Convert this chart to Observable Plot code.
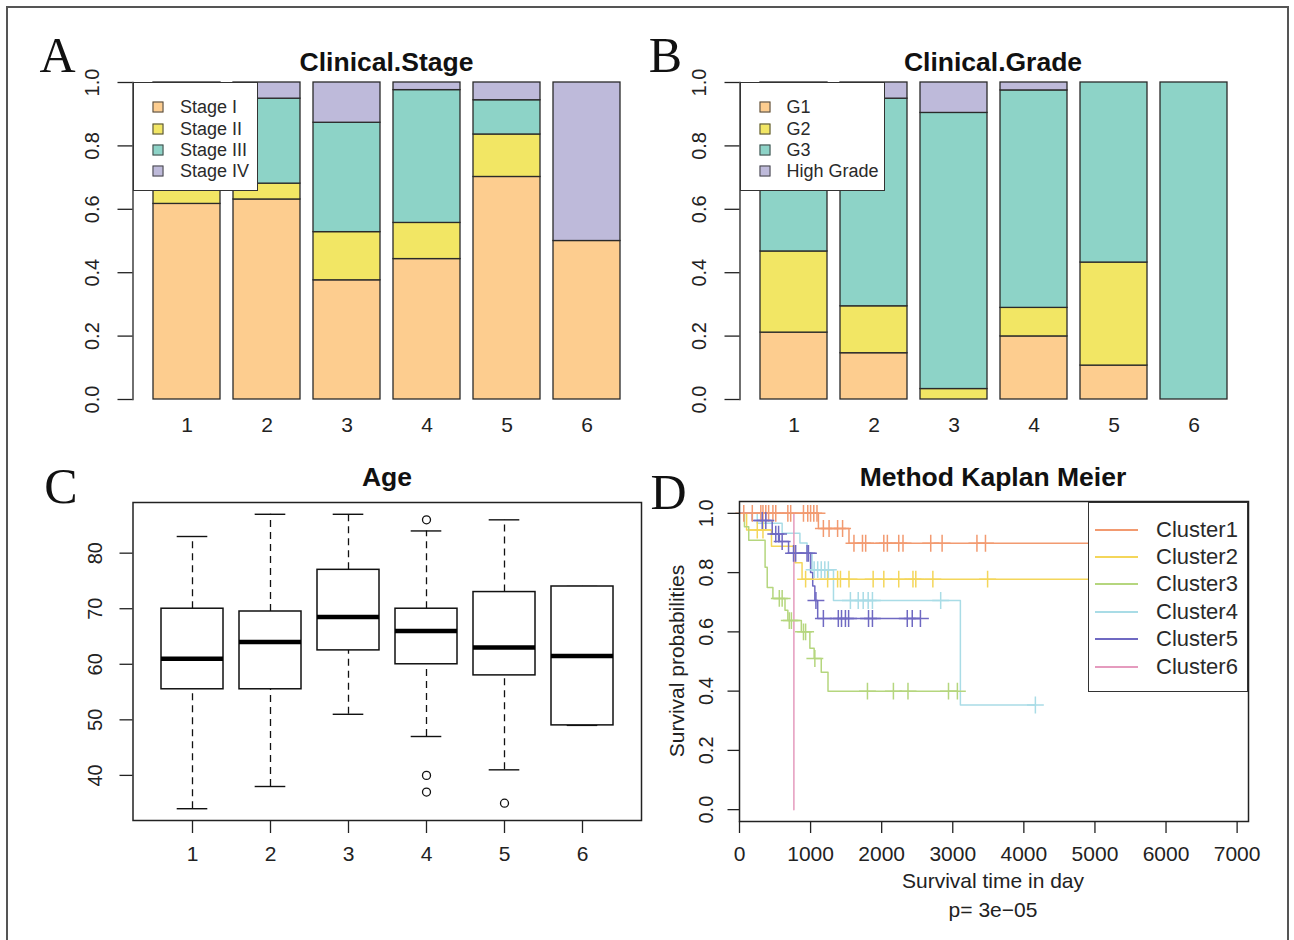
<!DOCTYPE html>
<html>
<head>
<meta charset="utf-8">
<script src="https://cdn.jsdelivr.net/npm/d3@7"></script>
<script src="https://cdn.jsdelivr.net/npm/@observablehq/plot@0.6"></script>
<style>
html, body { margin: 0; padding: 0; background: #fff; overflow: hidden; }
#fig { position: relative; width: 1294px; height: 940px; overflow: hidden; background: #fff;
       font-family: "Liberation Sans", Arial, sans-serif; color: #1e1e1e; }
#border { position: absolute; left: 6px; top: 6px; width: 1283px; height: 1000px;
          border: 2px solid #555; box-sizing: border-box; }
.panel { position: absolute; }
.panel svg { max-width: none !important; overflow: visible; }
.lbl { position: absolute; transform: translate(-50%, -50%); white-space: nowrap; line-height: 1; }
.letter { font-family: "Liberation Serif", "Times New Roman", serif; font-size: 50px; color: #111; }
.title { font-weight: bold; font-size: 26.5px; color: #111; }
.axlab { font-size: 21px; color: #222; }
.legend { position: absolute; background: #fff; border: 1.4px solid #333; box-sizing: border-box; }
.legend .sw { position: absolute; width: 11px; height: 11px; border: 1.3px solid #444; box-sizing: border-box; transform: translate(-50%, -50%); }
.legend .ln { position: absolute; height: 2px; transform: translateY(-50%); }
.legend .tx { position: absolute; transform: translateY(-50%); white-space: nowrap; line-height: 1; color: #2a2a2a; }
</style>
</head>
<body>
<div id="fig"><div id="border"></div></div>
<script>
// ---------------- DATA ----------------
const clusters = ["1", "2", "3", "4", "5", "6"];

// Panel A: Clinical.Stage proportions per cluster
const stageNames = ["Stage I", "Stage II", "Stage III", "Stage IV"];
const stageColors = ["#FDCD8F", "#F2E664", "#8DD3C7", "#BEBADA"];
const stageI   = [0.617, 0.631, 0.376, 0.443, 0.702, 0.500];
const stageII  = [0.050, 0.050, 0.152, 0.114, 0.134, 0.000];
const stageIII = [0.280, 0.268, 0.345, 0.419, 0.108, 0.000];
const stageIV  = [0.053, 0.051, 0.127, 0.024, 0.056, 0.500];

// Panel B: Clinical.Grade proportions per cluster
const gradeNames = ["G1", "G2", "G3", "High Grade"];
const gradeColors = ["#FDCD8F", "#F2E664", "#8DD3C7", "#BEBADA"];
const gradeG1 = [0.211, 0.146, 0.000, 0.199, 0.107, 0.000];
const gradeG2 = [0.256, 0.148, 0.033, 0.090, 0.325, 0.000];
const gradeG3 = [0.533, 0.655, 0.871, 0.686, 0.568, 1.000];
const gradeHigh = [0.000, 0.051, 0.096, 0.025, 0.000, 0.000];

const propTicks = [0, 0.2, 0.4, 0.6, 0.8, 1.0];

// Panel C: Age boxplot statistics
const ageLowerWhisker = [34, 38, 51, 47, 41, 49];
const ageQ1          = [55.5, 55.5, 62.5, 60, 58, 49];
const ageMedian      = [61, 64, 68.5, 66, 63, 61.5];
const ageQ3          = [70, 69.5, 77, 70, 73, 74];
const ageUpperWhisker= [83, 87, 87, 84, 86, 74];
const ageOutlierCluster = ["4", "4", "4", "5"];
const ageOutlierValue   = [86, 40, 37, 35];
const ageTicks = [40, 50, 60, 70, 80];

// Panel D: Kaplan-Meier curves
const kmNames = ["Cluster1", "Cluster2", "Cluster3", "Cluster4", "Cluster5", "Cluster6"];
const kmColors = ["#F29A70", "#F4D65A", "#B5D67E", "#A9DCE6", "#6F69C2", "#E59BBE"];
const c1StepTimes = [0, 1110, 1540];
const c1StepSurv  = [1.0, 0.949, 0.899];
const c1Censor = [60, 180, 300, 330, 370, 410, 470, 510, 680, 720, 900, 960, 1000, 1045, 1090,
                  1180, 1260, 1380, 1450, 1610, 1730, 1775, 2030, 2080, 2240, 2300, 2690, 2850, 3340, 3460, 6800];
const c2StepTimes = [0, 100, 450, 780, 880];
const c2StepSurv  = [1.0, 0.944, 0.889, 0.833, 0.778];
const c2Censor = [250, 330, 930, 1240, 1380, 1420, 1540, 1880, 2030, 2240, 2440, 2480, 2720, 3490, 6600];
const c3StepTimes = [0, 70, 130, 360, 390, 470, 640, 680, 870, 990, 1050, 1150, 1245];
const c3StepSurv  = [1.0, 0.955, 0.909, 0.818, 0.75, 0.713, 0.673, 0.638, 0.60, 0.545, 0.51, 0.464, 0.40];
const c3Censor = [560, 600, 700, 730, 900, 930, 1060, 1800, 2165, 2370, 2940, 3065];
const c4StepTimes = [0, 250, 600, 850, 950, 1020, 1322, 3107];
const c4StepSurv  = [1.0, 0.967, 0.933, 0.9, 0.867, 0.81, 0.706, 0.353];
const c4Censor = [1050, 1100, 1150, 1200, 1250, 1560, 1670, 1740, 1810, 1870, 2830, 4162];
const c5StepTimes = [0, 180, 460, 560, 690, 1000, 1030, 1060, 1100];
const c5StepSurv  = [1.0, 0.976, 0.93, 0.905, 0.865, 0.80, 0.755, 0.706, 0.645];
const c5Censor = [320, 370, 510, 550, 600, 760, 790, 950, 970, 1075, 1180, 1390, 1435, 1490, 1535,
                  1815, 1870, 2360, 2430, 2545];
const c6StepTimes = [0, 765];
const c6StepSurv  = [1.0, 0.0];
const c6Censor = [];
const kmTimeTicks = [0, 1000, 2000, 3000, 4000, 5000, 6000, 7000];
const kmSurvTicks = [0, 0.2, 0.4, 0.6, 0.8, 1.0];

// ---------------- HELPERS ----------------
const fig = document.getElementById("fig");
const FONT = '"Liberation Sans", Arial, sans-serif';
const INK = "#222";

function addPanel(svg, left, top, w, h) {
  const d = document.createElement("div");
  d.className = "panel";
  Object.assign(d.style, {left: left + "px", top: top + "px", width: w + "px", height: h + "px"});
  d.appendChild(svg);
  fig.appendChild(d);
}
function addLabel(text, cx, cy, cls, rotate) {
  const s = document.createElement("div");
  s.className = "lbl " + cls;
  s.textContent = text;
  s.style.left = cx + "px";
  s.style.top = cy + "px";
  if (rotate) s.style.transform = `translate(-50%, -50%) rotate(${rotate}deg)`;
  fig.appendChild(s);
}
function addBoxLegend(o) {
  const box = document.createElement("div");
  box.className = "legend";
  Object.assign(box.style, {left: o.left + "px", top: o.top + "px", width: o.width + "px", height: o.height + "px"});
  o.names.forEach((n, i) => {
    if (o.kind === "square") {
      const sw = document.createElement("div");
      sw.className = "sw";
      sw.style.left = o.keyX + "px"; sw.style.top = o.rows[i] + "px";
      sw.style.background = o.colors[i];
      box.appendChild(sw);
    } else {
      const ln = document.createElement("div");
      ln.className = "ln";
      ln.style.left = o.keyX + "px"; ln.style.top = o.rows[i] + "px";
      ln.style.width = o.keyW + "px"; ln.style.background = o.colors[i];
      box.appendChild(ln);
    }
    const tx = document.createElement("div");
    tx.className = "tx";
    tx.textContent = n;
    tx.style.left = o.textX + "px"; tx.style.top = o.rows[i] + "px";
    tx.style.fontSize = o.fontSize + "px";
    box.appendChild(tx);
  });
  fig.appendChild(box);
}
const baseStyle = {fontFamily: FONT, fontSize: "21px", color: INK, background: "transparent", overflow: "visible"};

// ---------------- PANEL A & B: stacked proportion bars ----------------
function stackedPanel(names, colors, series, width, marginLeft, marginRight) {
  const rows = clusters.flatMap((c, i) => names.map((n, j) => ({cluster: c, cat: n, value: series[j][i]})))
                       .filter(d => d.value > 0);
  return Plot.plot({
    width, height: 450,
    marginLeft, marginRight, marginTop: 82, marginBottom: 51,
    style: baseStyle,
    x: {type: "band", domain: clusters, paddingInner: 0.2 / 1.2, paddingOuter: 0.28 / 1.2, align: 0.5, label: null},
    y: {domain: [0, 1], label: null},
    color: {domain: names, range: colors},
    marks: [
      Plot.barY(rows, {x: "cluster", y: "value", fill: "cat", stroke: "#2a2a2a", strokeWidth: 1.3}),
      Plot.frame({anchor: "left", stroke: INK, strokeWidth: 1.3}),
      Plot.axisY({ticks: propTicks, tickSize: 15, fill: "none", stroke: INK, strokeWidth: 1.3, label: null}),
      Plot.text(propTicks, {y: d => d, frameAnchor: "left", dx: -40, rotate: -90, text: d => d.toFixed(1),
                            fontSize: 20, textAnchor: "middle", lineAnchor: "middle", fill: INK}),
      Plot.axisX({tickSize: 0, tickPadding: 18, fill: INK, label: null})
    ]
  });
}
addPanel(stackedPanel(stageNames, stageColors, [stageI, stageII, stageIII, stageIV], 650, 132.5, 9), 0, 0, 650, 450);
addPanel(stackedPanel(gradeNames, gradeColors, [gradeG1, gradeG2, gradeG3, gradeHigh], 644, 89.5, 47), 650, 0, 644, 450);

addBoxLegend({kind: "square", left: 132.5, top: 82, width: 125, height: 109, names: stageNames, colors: stageColors,
              rows: [24, 46, 67, 88], keyX: 24.5, textX: 46.5, fontSize: 18});
addBoxLegend({kind: "square", left: 739.5, top: 82, width: 145, height: 109, names: gradeNames, colors: gradeColors,
              rows: [24, 46, 67, 88], keyX: 24.5, textX: 46, fontSize: 18});

// ---------------- PANEL C: Age boxplot ----------------
const boxRows = clusters.map((c, i) => ({cluster: c, lo: ageLowerWhisker[i], q1: ageQ1[i], med: ageMedian[i],
                                         q3: ageQ3[i], hi: ageUpperWhisker[i]}));
const outlierRows = ageOutlierCluster.map((c, i) => ({cluster: c, age: ageOutlierValue[i]}));
const capInset = 508.5 / 6.48 * 0.8 / 4;
const panelC = Plot.plot({
  width: 650, height: 490,
  marginLeft: 132.5, marginRight: 9, marginTop: 52, marginBottom: 120,
  style: baseStyle,
  x: {type: "band", domain: clusters, paddingInner: 0.2, paddingOuter: 0.34, align: 0.5, label: null},
  y: {domain: [31.88, 89.12], label: null},
  marks: [
    Plot.ruleX(boxRows, {x: "cluster", y1: "q3", y2: "hi", stroke: "#111", strokeWidth: 1.3, strokeDasharray: "7,5"}),
    Plot.ruleX(boxRows, {x: "cluster", y1: "lo", y2: "q1", stroke: "#111", strokeWidth: 1.3, strokeDasharray: "7,5"}),
    Plot.tickY(boxRows, {x: "cluster", y: "hi", stroke: "#111", strokeWidth: 1.4, insetLeft: capInset, insetRight: capInset}),
    Plot.tickY(boxRows, {x: "cluster", y: "lo", stroke: "#111", strokeWidth: 1.4, insetLeft: capInset, insetRight: capInset}),
    Plot.barY(boxRows, {x: "cluster", y1: "q1", y2: "q3", fill: "white", stroke: "#111", strokeWidth: 1.5}),
    Plot.tickY(boxRows, {x: "cluster", y: "med", stroke: "#000", strokeWidth: 4.5}),
    Plot.dot(outlierRows, {x: "cluster", y: "age", r: 4, stroke: "#111", strokeWidth: 1.3, fill: "none"}),
    Plot.frame({stroke: "#222", strokeWidth: 1.5}),
    Plot.axisY({ticks: ageTicks, tickSize: 13, fill: "none", stroke: INK, strokeWidth: 1.3, label: null}),
    Plot.text(ageTicks, {y: d => d, frameAnchor: "left", dx: -37, rotate: -90, text: d => String(d),
                         fontSize: 20, textAnchor: "middle", lineAnchor: "middle", fill: INK}),
    Plot.axisX({tickSize: 13, tickPadding: 12.5, fill: INK, stroke: INK, strokeWidth: 1.3, label: null})
  ]
});
addPanel(panelC, 0, 450, 650, 490);

// ---------------- PANEL D: Kaplan-Meier ----------------
const kmStepTimes = [c1StepTimes, c2StepTimes, c3StepTimes, c4StepTimes, c5StepTimes, c6StepTimes];
const kmStepSurv = [c1StepSurv, c2StepSurv, c3StepSurv, c4StepSurv, c5StepSurv, c6StepSurv];
const kmCensor = [c1Censor, c2Censor, c3Censor, c4Censor, c5Censor, c6Censor];
function survAt(times, surv, t) {
  let s = surv[0];
  for (let i = 0; i < times.length; i++) if (times[i] <= t) s = surv[i];
  return s;
}
const kmLineRows = [];
const kmCensorRows = [];
kmNames.forEach((name, k) => {
  const T = kmStepTimes[k], S = kmStepSurv[k], C = kmCensor[k];
  T.forEach((t, i) => kmLineRows.push({cluster: name, t, s: S[i]}));
  const lastT = d3.max([...T, ...C]);
  if (lastT > T[T.length - 1]) kmLineRows.push({cluster: name, t: lastT, s: S[S.length - 1]});
  C.forEach(t => kmCensorRows.push({cluster: name, t, s: survAt(T, S, t)}));
});
const panelD = Plot.plot({
  width: 644, height: 490,
  marginLeft: 89, marginRight: 46, marginTop: 51, marginBottom: 119,
  style: baseStyle,
  x: {domain: [0, 7160], label: null},
  y: {domain: [-0.04, 1.04], label: null},
  color: {domain: kmNames, range: kmColors},
  marks: [
    Plot.line(kmLineRows, {x: "t", y: "s", z: "cluster", stroke: "cluster", curve: "step-after", strokeWidth: 1.5}),
    Plot.dot(kmCensorRows, {x: "t", y: "s", stroke: "cluster", symbol: "plus", r: 5.5, strokeWidth: 1.5}),
    Plot.frame({stroke: "#222", strokeWidth: 1.5}),
    Plot.axisX({ticks: kmTimeTicks, tickSize: 12, tickPadding: 12.5, tickFormat: d => String(d), fill: INK, stroke: INK, strokeWidth: 1.3, label: null}),
    Plot.axisY({ticks: kmSurvTicks, tickSize: 11.5, fill: "none", stroke: INK, strokeWidth: 1.3, label: null}),
    Plot.text(kmSurvTicks, {y: d => d, frameAnchor: "left", dx: -33, rotate: -90, text: d => d.toFixed(1),
                            fontSize: 20, textAnchor: "middle", lineAnchor: "middle", fill: INK})
  ]
});
addPanel(panelD, 650, 450, 644, 490);

addBoxLegend({kind: "line", left: 1088, top: 502, width: 160, height: 190, names: kmNames, colors: kmColors,
              rows: [27, 54, 81, 109, 136, 164], keyX: 6, keyW: 43, textX: 67, fontSize: 22});

// ---------------- TEXT ----------------
addLabel("A", 57.5, 55, "letter");
addLabel("B", 665.5, 55, "letter");
addLabel("C", 61, 486, "letter");
addLabel("D", 668.5, 492, "letter");
addLabel("Clinical.Stage", 386.5, 62, "title");
addLabel("Clinical.Grade", 993, 62, "title");
addLabel("Age", 387, 477, "title");
addLabel("Method Kaplan Meier", 993, 477, "title");
addLabel("Survival time in day", 993, 880, "axlab");
addLabel("p= 3e\u221205", 993, 909, "axlab");
addLabel("Survival probabilities", 676, 661, "axlab", -90);
</script>
</body>
</html>
